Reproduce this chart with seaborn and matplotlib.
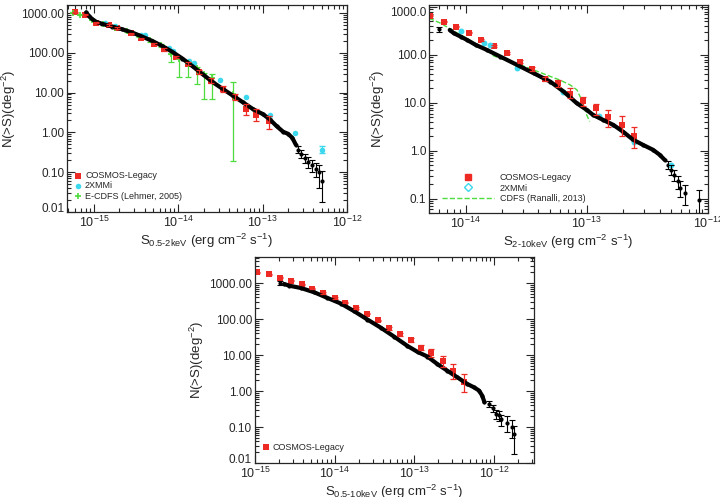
import numpy as np
import matplotlib
matplotlib.use("Agg")
import matplotlib.pyplot as plt
import seaborn as sns
from matplotlib.lines import Line2D
from matplotlib.ticker import FixedLocator, FixedFormatter, LogLocator, NullFormatter

sns.set_style("ticks")
plt.rcParams["font.family"] = ["Liberation Sans", "DejaVu Sans"]
plt.rcParams["mathtext.fontset"] = "custom"
plt.rcParams["mathtext.rm"] = "Liberation Sans"
plt.rcParams["mathtext.it"] = "Liberation Sans"
plt.rcParams["mathtext.bf"] = "Liberation Sans:bold"

RED = "#ee2a24"
CYAN = "#3cd8ee"
GREEN = "#4cdc3c"

# ---------------- panel 1: 0.5-2 keV ----------------
p1_black_s = [8.1e-16, 8.7e-16, 9.55e-16, 1.07e-15, 1.26e-15, 1.65e-15, 2.17e-15, 2.86e-15, 3.77e-15,
              4.95e-15, 6.5e-15, 8.5e-15, 1.12e-14, 1.48e-14, 1.95e-14, 2.56e-14, 3.37e-14, 4.45e-14,
              5.85e-14, 7.7e-14, 1.01e-13, 1.21e-13, 1.46e-13, 1.75e-13, 2.0e-13, 2.25e-13, 2.47e-13]
p1_black_n = [1040, 855, 705, 600, 535, 458, 392, 323, 255, 198, 148, 106, 72, 46, 29, 18.4, 12.4, 8.4,
              5.7, 3.85, 2.88, 2.15, 1.45, 1.04, 0.925, 0.73, 0.495]
p1_tail_s = [2.63e-13, 2.88e-13, 3.16e-13, 3.47e-13, 3.86e-13, 4.27e-13, 4.68e-13, 5.1e-13]
p1_tail_n = [0.37, 0.29, 0.227, 0.18, 0.148, 0.119, 0.10, 0.06]
p1_tail_lo = [0.30, 0.23, 0.17, 0.13, 0.10, 0.075, 0.04, 0.018]
p1_tail_hi = [0.45, 0.36, 0.29, 0.24, 0.20, 0.17, 0.15, 0.11]

p1_red_s = [5.9e-16, 7.8e-16, 1.05e-15, 1.5e-15, 1.9e-15, 2.75e-15, 3.6e-15, 5.2e-15, 6.8e-15, 9.3e-15,
            1.29e-14, 1.78e-14, 2.45e-14, 3.4e-14, 4.65e-14, 6.4e-14, 8.4e-14, 1.2e-13]
p1_red_n = [1040, 908, 580, 505, 415, 310, 230, 172, 122, 79, 54, 33, 20, 12.4, 8.0, 3.8, 2.8, 1.9]
p1_red_lo = [1000, 870, 555, 480, 395, 295, 218, 162, 114, 73, 49, 29.5, 17.5, 10.5, 6.5, 2.7, 1.9, 1.2]
p1_red_hi = [1080, 945, 605, 530, 435, 325, 242, 182, 130, 85, 59, 36.5, 23, 14.5, 9.5, 5.3, 4.0, 2.6]

p1_cyan_s = [1.35e-15, 1.8e-15, 3.6e-15, 4.0e-15, 7.8e-15, 8.7e-15, 1.35e-14, 1.55e-14, 3.1e-14,
             6.3e-14, 1.23e-13, 2.45e-13, 5.0e-13]
p1_cyan_n = [580, 475, 280, 280, 130, 110, 62, 56, 21, 7.6, 2.75, 0.98, 0.37]

p1_green_s = [5.6e-16, 6.9e-16, 9.5e-16, 1.3e-15, 1.8e-15, 2.5e-15, 3.4e-15, 4.6e-15, 6.2e-15, 8.2e-15,
              1.03e-14, 1.32e-14, 1.65e-14, 2.04e-14, 2.5e-14, 4.4e-14]
p1_green_n = [1030, 907, 690, 545, 430, 345, 265, 205, 155, 92, 72, 55, 42, 30, 24, 9]
p1_green_lo = [1000, 880, 670, 525, 415, 330, 250, 185, 138, 58, 25, 25, 16.6, 6.9, 6.9, 0.19]
p1_green_hi = [1060, 935, 710, 565, 445, 360, 280, 222, 170, 96, 75, 60, 45, 32, 30, 18.2]

# ---------------- panel 2: 2-10 keV ----------------
p2_black_s = [7.4e-15, 8.0e-15, 9.1e-15, 1.03e-14, 1.21e-14, 1.5e-14, 1.94e-14, 2.66e-14, 3.65e-14,
              5.0e-14, 6.45e-14, 8.3e-14, 1.0e-13, 1.13e-13, 1.37e-13, 1.66e-13, 2.0e-13, 2.42e-13,
              2.92e-13, 3.53e-13, 4.0e-13, 4.4e-13]
p2_black_n = [331, 283, 241, 205, 162, 127, 92, 62, 41.5, 27.8, 17.2, 9.8, 7.15, 5.6, 4.4, 3.47, 2.5,
              1.7, 1.33, 1.05, 0.83, 0.65]
p2_tail_s = [6.0e-15, 4.7e-13, 5.0e-13, 5.3e-13, 5.66e-13, 5.9e-13, 6.45e-13, 8.4e-13]
p2_tail_n = [343, 0.51, 0.40, 0.316, 0.23, 0.166, 0.13, 0.095]
p2_tail_lo = [300, 0.42, 0.32, 0.24, 0.16, 0.11, 0.075, 0.05]
p2_tail_hi = [390, 0.62, 0.50, 0.40, 0.30, 0.23, 0.19, 0.15]

p2_red_s = [5.1e-15, 6.6e-15, 8.4e-15, 1.07e-14, 1.35e-14, 1.71e-14, 2.2e-14, 2.8e-14, 3.57e-14,
            4.55e-14, 5.75e-14, 7.3e-14, 9.4e-14, 1.19e-13, 1.5e-13, 1.94e-13, 2.45e-13]
p2_red_n = [660, 494, 389, 292, 205, 154, 108, 72.5, 51, 31.6, 26.5, 15.4, 11, 7.7, 5.0, 3.5, 2.0]
p2_red_lo = [640, 478, 376, 282, 197, 147, 102, 68, 47, 28.5, 21.4, 12.5, 8.4, 5.6, 3.2, 2.0, 1.14]
p2_red_hi = [680, 510, 402, 302, 213, 161, 114, 77, 55, 34.5, 30, 20, 13.5, 9.3, 7.15, 5.2, 3.2]

p2_cyan_s = [9.1e-15, 1.41e-14, 1.58e-14, 2.66e-14, 6.35e-14, 1.27e-13, 2.45e-13, 5.0e-13]
p2_cyan_n = [322, 181, 160, 54.5, 17.2, 5.4, 1.55, 0.5]

p2_cdfs_s = [5.0e-15, 6.24e-15, 7.3e-15, 9.1e-15, 1.17e-14, 1.5e-14, 1.71e-14, 2.2e-14, 2.83e-14,
             3.65e-14, 4.68e-14, 6.0e-14, 7.3e-14, 8.3e-14, 9.1e-14, 1.0e-13, 1.06e-13]
p2_cdfs_n = [580, 457, 360, 261, 181, 127, 95, 76, 62, 48.7, 38, 30, 23.7, 18.7, 11.5, 5.6, 4.1]

# ---------------- panel 3: 0.5-10 keV ----------------
p3_black_s = [2.33e-15, 2.7e-15, 3.78e-15, 5.55e-15, 8.15e-15, 1.2e-14, 1.76e-14, 2.58e-14, 3.8e-14,
              5.58e-14, 8.2e-14, 1.1e-13, 1.46e-13, 1.95e-13, 2.6e-13, 3.47e-13, 4.63e-13, 5.6e-13,
              6.5e-13, 7.1e-13, 7.6e-13]
p3_black_n = [940, 843, 728, 553, 385, 269, 165, 97, 57.5, 32.5, 17.9, 12.2, 9.1, 5.6, 3.66, 2.4, 1.57,
              1.27, 1.03, 0.75, 0.49]
p3_tail_s = [2.06e-15, 8.7e-13, 9.6e-13, 1.05e-12, 1.16e-12, 1.24e-12, 1.47e-12, 1.7e-12, 1.78e-12]
p3_tail_n = [1000, 0.44, 0.334, 0.233, 0.21, 0.162, 0.132, 0.10, 0.065]
p3_tail_lo = [880, 0.36, 0.26, 0.17, 0.15, 0.11, 0.075, 0.05, 0.018]
p3_tail_hi = [1130, 0.53, 0.42, 0.30, 0.28, 0.22, 0.20, 0.16, 0.11]

p3_red_s = [1.06e-15, 1.51e-15, 2.06e-15, 2.82e-15, 3.85e-15, 5.28e-15, 7.26e-15, 1.0e-14, 1.36e-14,
            1.88e-14, 2.58e-14, 3.51e-14, 4.83e-14, 6.6e-14, 9.0e-14, 1.23e-13, 1.64e-13, 2.3e-13,
            3.1e-13, 4.2e-13]
p3_red_n = [1970, 1770, 1400, 1160, 938, 698, 530, 385, 281, 204, 142, 91.5, 55, 37.6, 26.2, 16.1, 11.2,
            6.9, 3.6, 1.75]
p3_red_lo = [1900, 1710, 1350, 1120, 905, 672, 510, 370, 270, 195, 135, 86, 51, 34.5, 23.5, 14, 8.6,
             4.8, 2.15, 0.92]
p3_red_hi = [2040, 1830, 1450, 1200, 970, 724, 550, 400, 292, 213, 149, 97, 59, 41, 29, 18.5, 14.5,
             9.6, 5.6, 2.95]

YT5 = [0.01, 0.1, 1, 10, 100, 1000]
YT5_LAB = ["0.01", "0.10", "1.00", "10.00", "100.00", "1000.00"]
YT4 = [0.1, 1, 10, 100, 1000]
YT4_LAB = ["0.1", "1.0", "10.0", "100.0", "1000.0"]

fig = plt.figure(figsize=(7.2, 4.97), dpi=100)
ax1 = fig.add_axes([0.093, 0.573, 0.389, 0.417])
ax2 = fig.add_axes([0.596, 0.571, 0.387, 0.419])
ax3 = fig.add_axes([0.354, 0.068, 0.388, 0.415])


def err(n, lo, hi):
    n = np.asarray(n)
    return [n - np.asarray(lo), np.asarray(hi) - n]


def black(ax, s, n, ts, tn, tlo, thi):
    sns.lineplot(x=s, y=n, color="black", linewidth=3.0, estimator=None, ax=ax)
    sns.scatterplot(x=s, y=n, color="black", s=9, linewidth=0, ax=ax)
    ax.errorbar(ts, tn, yerr=err(tn, tlo, thi), fmt="none", ecolor="black", elinewidth=0.8,
                capsize=2, capthick=0.8)
    sns.scatterplot(x=ts, y=tn, color="black", s=9, linewidth=0, ax=ax)


def setup(ax, xlim, ylim, yt, ylab, band):
    ax.set_xscale("log")
    ax.set_yscale("log")
    ax.set_xlim(*xlim)
    ax.set_ylim(*ylim)
    ax.yaxis.set_major_locator(FixedLocator(yt))
    ax.yaxis.set_major_formatter(FixedFormatter(ylab))
    ax.yaxis.set_minor_locator(LogLocator(base=10, subs=np.arange(2, 10)))
    ax.yaxis.set_minor_formatter(NullFormatter())
    ax.xaxis.set_minor_locator(LogLocator(base=10, subs=np.arange(2, 10)))
    ax.xaxis.set_minor_formatter(NullFormatter())
    ax.tick_params(which="both", direction="in", top=True, right=True, width=0.8)
    ax.tick_params(which="major", length=6)
    ax.tick_params(which="minor", length=3)
    ax.tick_params(axis="y", which="major", pad=2, labelsize=8.5)
    ax.tick_params(axis="x", which="major", pad=2, labelsize=9)
    for sp in ax.spines.values():
        sp.set_linewidth(0.9)
    ax.set_ylabel(r"N(>S)(deg$^{-2}$)", fontsize=9.5, labelpad=2)
    ax.set_xlabel(r"S$_{\text{%s}}$ (erg cm$^{-2}$ s$^{-1}$)" % band, fontsize=9.5, labelpad=1)


leg_kw = dict(loc="lower left", frameon=False, fontsize=6.5, handlelength=0.8,
              handletextpad=0.4, labelspacing=0.15, borderpad=0.3)

# panel 1
setup(ax1, (4.8e-16, 1e-12), (0.0099, 1600), YT5, YT5_LAB, "0.5-2keV")
ax1.errorbar(p1_green_s, p1_green_n, yerr=err(p1_green_n, p1_green_lo, p1_green_hi), fmt="none",
             ecolor=GREEN, elinewidth=0.9, capsize=2, capthick=0.9)
black(ax1, p1_black_s, p1_black_n, p1_tail_s, p1_tail_n, p1_tail_lo, p1_tail_hi)
ax1.errorbar(p1_red_s, p1_red_n, yerr=err(p1_red_n, p1_red_lo, p1_red_hi), fmt="none",
             ecolor=RED, elinewidth=0.9, capsize=2, capthick=0.9)
sns.scatterplot(x=p1_red_s, y=p1_red_n, color=RED, marker="s", s=14, linewidth=0, ax=ax1,
                label="COSMOS-Legacy")
sns.scatterplot(x=p1_cyan_s, y=p1_cyan_n, color=CYAN, marker="o", s=16, linewidth=0, ax=ax1,
                label="2XMMi")
sns.scatterplot(x=p1_green_s, y=p1_green_n, color=GREEN, marker="+", s=22, linewidth=1.2, ax=ax1,
                label="E-CDFS (Lehmer, 2005)")
ax1.errorbar([5.0e-13], [0.37], yerr=[[0.07], [0.08]], fmt="none", ecolor=CYAN, elinewidth=0.9,
             capsize=2)
ax1.legend(bbox_to_anchor=(0.0, 0.02), **leg_kw)

# panel 2
setup(ax2, (5e-15, 1e-12), (0.05, 1100), YT4, YT4_LAB, "2-10keV")
sns.lineplot(x=p2_cdfs_s, y=p2_cdfs_n, color=GREEN, linestyle="--", linewidth=1.0, estimator=None,
             ax=ax2, zorder=1)
black(ax2, p2_black_s, p2_black_n, p2_tail_s, p2_tail_n, p2_tail_lo, p2_tail_hi)
ax2.errorbar(p2_red_s, p2_red_n, yerr=err(p2_red_n, p2_red_lo, p2_red_hi), fmt="none",
             ecolor=RED, elinewidth=0.9, capsize=2, capthick=0.9)
sns.scatterplot(x=p2_red_s, y=p2_red_n, color=RED, marker="s", s=18, linewidth=0, ax=ax2)
sns.scatterplot(x=p2_cyan_s, y=p2_cyan_n, color=CYAN, marker="o", s=18, linewidth=0, ax=ax2)
h2 = [Line2D([], [], color=RED, marker="s", linestyle="none", markersize=4.5),
      Line2D([], [], color=CYAN, marker="D", markerfacecolor="none", linestyle="none", markersize=4),
      Line2D([], [], color=GREEN, linestyle="--", linewidth=1.0)]
ax2.legend(h2, ["COSMOS-Legacy", "2XMMi", "CDFS (Ranalli, 2013)"], loc="lower left",
           bbox_to_anchor=(0.02, 0.015), frameon=False, fontsize=6.5, handlelength=5.8,
           handletextpad=0.6, labelspacing=0.15, borderpad=0.3)

# panel 3
setup(ax3, (1e-15, 3.2e-12), (0.0099, 5300), YT5, YT5_LAB, "0.5-10keV")
black(ax3, p3_black_s, p3_black_n, p3_tail_s, p3_tail_n, p3_tail_lo, p3_tail_hi)
ax3.errorbar(p3_red_s, p3_red_n, yerr=err(p3_red_n, p3_red_lo, p3_red_hi), fmt="none",
             ecolor=RED, elinewidth=0.9, capsize=2, capthick=0.9)
sns.scatterplot(x=p3_red_s, y=p3_red_n, color=RED, marker="s", s=16, linewidth=0, ax=ax3,
                label="COSMOS-Legacy")
ax3.legend(bbox_to_anchor=(0.0, 0.02), **leg_kw)

# edge labels nudged inward like the original
fig.canvas.draw()
ax1.get_yticklabels()[0].set_verticalalignment("baseline")
ax3.get_yticklabels()[0].set_verticalalignment("baseline")
ax2.get_yticklabels()[-1].set_verticalalignment("top")

fig.savefig("out.png", dpi=100)
